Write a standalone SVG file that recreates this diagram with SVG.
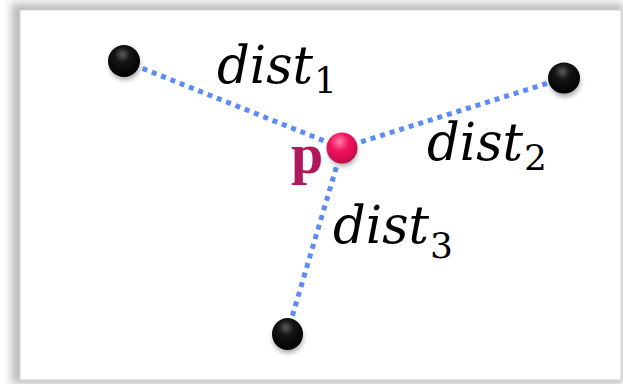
<svg xmlns="http://www.w3.org/2000/svg" width="623" height="384" viewBox="0 0 623 384">
<defs>
<filter id="fshadow" x="-10%" y="-10%" width="120%" height="120%"><feGaussianBlur stdDeviation="4"/></filter>
<filter id="bshadow" x="-50%" y="-50%" width="200%" height="200%"><feGaussianBlur stdDeviation="2.5"/></filter>
<radialGradient id="gblack" cx="0.45" cy="0.3" r="0.7">
<stop offset="0" stop-color="#5a5a5a"/>
<stop offset="0.35" stop-color="#151515"/>
<stop offset="1" stop-color="#000"/>
</radialGradient>
<radialGradient id="gpink" cx="0.42" cy="0.3" r="0.75">
<stop offset="0" stop-color="#ff7fa8"/>
<stop offset="0.4" stop-color="#f0145e"/>
<stop offset="1" stop-color="#c00a48"/>
</radialGradient>
<style>
.edge{stroke:#5b8cf5;stroke-width:5;stroke-dasharray:5 5;fill:none}
.lbl{font-family:"DejaVu Serif",serif;font-style:italic;font-size:53px;fill:#000}
.sub{font-family:"DejaVu Serif",serif;font-size:36px;fill:#000}
.sh{fill:#000;opacity:0.35;filter:url(#bshadow)}
</style>
</defs>
<rect x="0" y="0" width="623" height="384" fill="#fff"/>
<rect x="11" y="3" width="612" height="381" fill="#bdbdbd" filter="url(#fshadow)"/>
<rect x="20" y="10" width="601" height="370" fill="#fff" stroke="#d4d4d4" stroke-width="1"/>
<g id="connectors">
<line class="edge" x1="124" y1="61" x2="342" y2="148"/>
<line class="edge" x1="342" y1="148" x2="564" y2="78"/>
<line class="edge" x1="342" y1="148" x2="287" y2="334"/>
</g>
<g id="n1">
<ellipse class="sh" cx="125" cy="65" rx="15" ry="15"/>
<ellipse cx="124" cy="61" rx="16" ry="16" fill="url(#gblack)"/>
</g>
<g id="n2">
<ellipse class="sh" cx="565" cy="82" rx="15" ry="15"/>
<ellipse cx="564" cy="78" rx="16" ry="15.5" fill="url(#gblack)"/>
</g>
<g id="n3">
<ellipse class="sh" cx="288" cy="338" rx="15" ry="15"/>
<ellipse cx="287.5" cy="334" rx="15.5" ry="16" fill="url(#gblack)"/>
</g>
<g id="p">
<ellipse class="sh" cx="343" cy="152" rx="14" ry="14"/>
<circle cx="342" cy="148" r="15.5" fill="url(#gpink)"/>
<text x="291" y="173" font-family="Liberation Serif, serif" font-weight="bold" font-size="58" fill="#b1175c">p</text>
</g>
<g id="labels">
<text class="lbl" x="217" y="83" textLength="96" lengthAdjust="spacingAndGlyphs">dist</text><text class="sub" x="314" y="93">1</text>
<text class="lbl" x="427" y="160" textLength="96" lengthAdjust="spacingAndGlyphs">dist</text><text class="sub" x="524" y="170">2</text>
<text class="lbl" x="333" y="243" textLength="96" lengthAdjust="spacingAndGlyphs">dist</text><text class="sub" x="430" y="258">3</text>
</g>
</svg>
